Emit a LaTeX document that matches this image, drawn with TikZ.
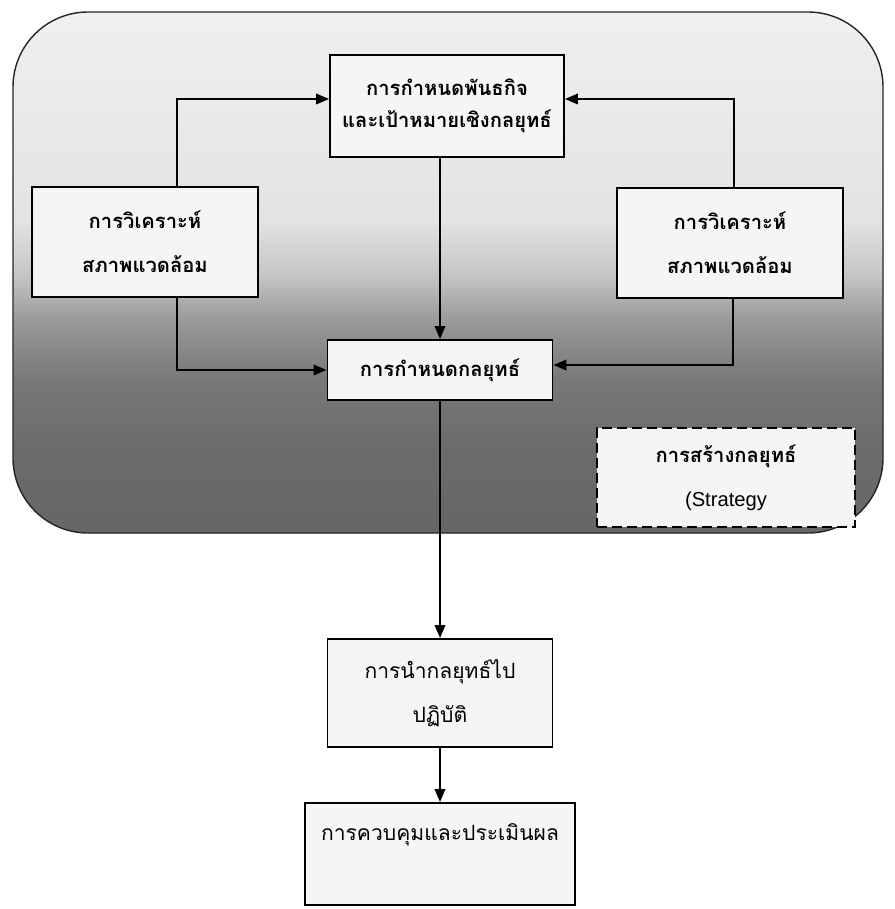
\documentclass[tikz,border=0pt]{standalone}
\usepackage{fontspec}
\usetikzlibrary{arrows.meta}
\newfontfamily\thaifont[Script=Thai]{Loma}
\newfontfamily\engfont{Liberation Sans}
\pgfdeclareverticalshading{envshade}{100bp}{%
  color(0bp)=(black!60); color(25bp)=(black!60); color(33bp)=(black!58);
  color(39.7bp)=(black!53); color(45.4bp)=(black!40); color(50bp)=(black!22);
  color(55bp)=(black!11); color(75bp)=(black!6); color(100bp)=(black!6)}

\begin{document}
\begin{tikzpicture}[x=0.02cm,y=-0.02cm,
    box/.style={draw,line width=1.1pt,fill=black!4,align=center,inner sep=0pt},
    thick box/.style={box,font=\thaifont\bfseries\fontsize{11.5}{25}\selectfont},
    thin box/.style={box,font=\thaifont\fontsize{12}{25}\selectfont},
    arr/.style={line width=1.1pt,-{Triangle[length=2.6mm,width=2.1mm]}}]
  \useasboundingbox (0,0) rectangle (895,909);

  \shade[shading=envshade,draw=black!85,line width=0.8pt,rounded corners=1.5cm]
    (13,12) rectangle (883,533);

  \node[thick box,minimum width=4.68cm,minimum height=2.04cm,
    font=\thaifont\bfseries\fontsize{11.5}{18}\selectfont] (mission) at (447,106)
    {การกำหนดพันธกิจ\\และเป้าหมายเชิงกลยุทธ์};
  \node[thick box,minimum width=4.52cm,minimum height=2.2cm] (envl) at (145,242)
    {การวิเคราะห์\\สภาพแวดล้อม};
  \node[thick box,minimum width=4.52cm,minimum height=2.2cm] (envr) at (730,243)
    {การวิเคราะห์\\สภาพแวดล้อม};
  \node[thick box,minimum width=4.5cm,minimum height=1.2cm] (form) at (440,370)
    {การกำหนดกลยุทธ์};
  \node[thick box,dashed,dash pattern=on 2mm off 1mm,minimum width=5.16cm,
    minimum height=1.98cm] (build) at (726,477.5)
    {การสร้างกลยุทธ์\\{\engfont\mdseries (Strategy}};
  \node[thin box,minimum width=4.5cm,minimum height=2.16cm] (impl) at (440,693)
    {การนำกลยุทธ์ไป\\ปฏิบัติ};
  \node[thin box,minimum width=5.4cm,minimum height=2.04cm] (ctrl) at (440,854)
    {การควบคุมและประเมินผล\\\mbox{}};

  \draw[arr] ([xshift=0.64cm]envl.north) |- ([yshift=0.14cm]mission.west);
  \draw[arr] ([xshift=0.08cm]envr.north) |- ([yshift=0.14cm]mission.east);
  \draw[arr] ([xshift=0.64cm]envl.south) |- (form.west);
  \draw[arr] ([xshift=0.06cm]envr.south) |- ([yshift=0.1cm]form.east);
  \draw[arr] (form.north |- mission.south) -- (form.north);
  \draw[arr] (form.south) -- (impl.north);
  \draw[arr] (impl.south) -- (ctrl.north);
\end{tikzpicture}
\end{document}
